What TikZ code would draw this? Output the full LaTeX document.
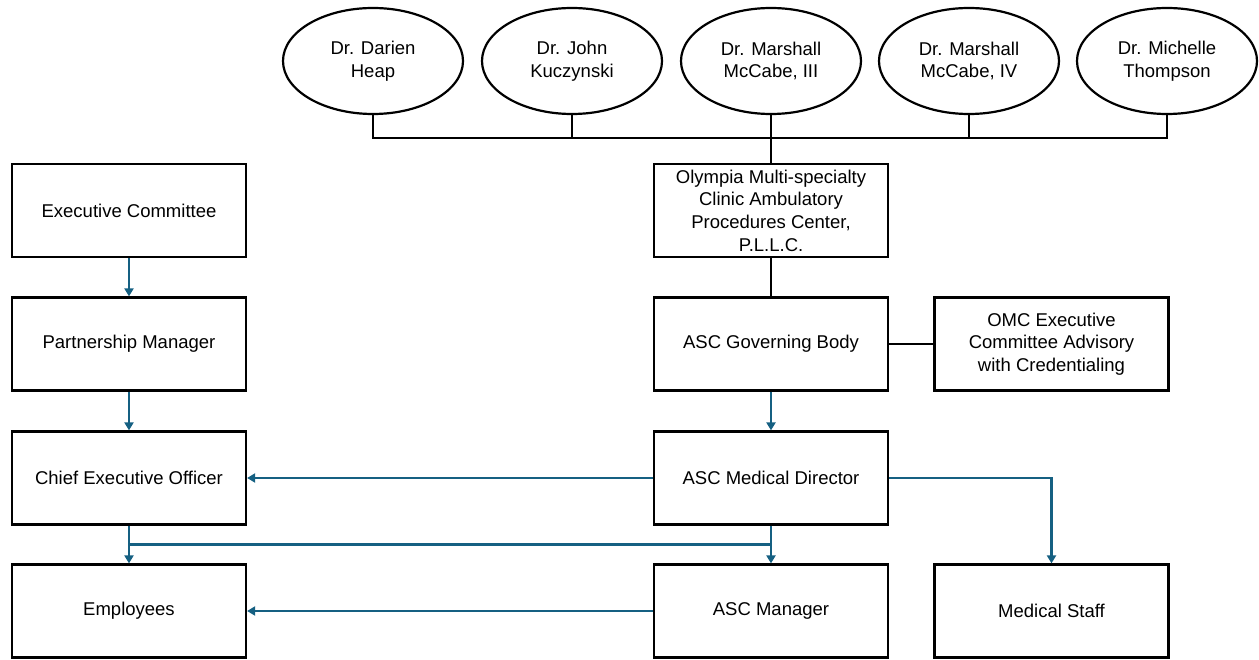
\documentclass[tikz,border=0pt]{standalone}
\usepackage{fontspec}
\setmainfont{Liberation Sans}
\usetikzlibrary{arrows.meta,calc,shapes.geometric}
\definecolor{orgblue}{HTML}{156082}
\tikzset{
  orgbox/.style={draw,line width=2.2pt,minimum width=234pt,minimum height=93pt,
    align=center,inner sep=2pt,font=\fontsize{18.5}{22.7}\selectfont},
  docoval/.style={draw,ellipse,line width=2.2pt,minimum width=180pt,minimum height=106pt,
    align=center,inner sep=0pt,font=\fontsize{18.5}{22.7}\selectfont},
  link/.style={line width=2.2pt},
  report/.style={line width=2.2pt,orgblue,-{Triangle[length=8pt,width=9pt]}}
}
\begin{document}
\begin{tikzpicture}[x=1pt,y=-1pt]
  \useasboundingbox (0,0) rectangle (1259,660);
  % owners
  \foreach \n/\x/\txt in {dr1/373/{Dr. Darien\\Heap},dr2/572/{Dr. John\\Kuczynski},
      dr3/771/{Dr. Marshall\\McCabe, III},dr4/969/{Dr. Marshall\\McCabe, IV},
      dr5/1167/{Dr. Michelle\\Thompson}} {
    \node[docoval] (\n) at (\x,61) {\txt};
  }
  % left column
  \node[orgbox] (exec) at (129,210.5) {Executive Committee};
  \node[orgbox] (partner) at (129,344) {Partnership Manager};
  \node[orgbox] (ceo) at (129,478) {Chief Executive Officer};
  \node[orgbox] (empl) at (129,611) {Employees};
  % middle column
  \node[orgbox] (olympia) at (771,210.5) {Olympia Multi-specialty\\Clinic Ambulatory\\Procedures Center,\\P.L.L.C.};
  \node[orgbox] (gov) at (771,344) {ASC Governing Body};
  \node[orgbox] (meddir) at (771,478) {ASC Medical Director};
  \node[orgbox] (ascman) at (771,611) {ASC Manager};
  % right column
  \node[orgbox] (omc) at (1051.5,344) {OMC Executive\\Committee Advisory\\with Credentialing};
  \node[orgbox] (staff) at (1051.5,611) {Medical Staff};
  % ownership bus
  \coordinate (dbus) at (0,138);
  \draw[link] (dr1.south) -- (dr1.south |- dbus) -- (dr5.south |- dbus) -- (dr5.south);
  \draw[link] (dr2.south) -- (dr2.south |- dbus);
  \draw[link] (dr4.south) -- (dr4.south |- dbus);
  \draw[link] (dr3.south) -- (olympia.north);
  \draw[link] (olympia.south) -- (gov.north);
  \draw[link] (gov.east) -- (omc.west);
  % reporting lines
  \draw[report] (exec.south) -- (partner.north);
  \draw[report] (partner.south) -- (ceo.north);
  \draw[report] (ceo.south) -- (empl.north);
  \draw[report] (gov.south) -- (meddir.north);
  \draw[report] (meddir.south) -- (ascman.north);
  \draw[report] (meddir.west) -- (ceo.east);
  \draw[report] (ascman.west) -- (empl.east);
  \draw[report] (meddir.east) -| (staff.north);
  \coordinate (cbus) at ($(ceo.south)!0.5!(empl.north)$);
  \draw[link,orgblue] (cbus) -- (cbus -| meddir.south);
\end{tikzpicture}
\end{document}
